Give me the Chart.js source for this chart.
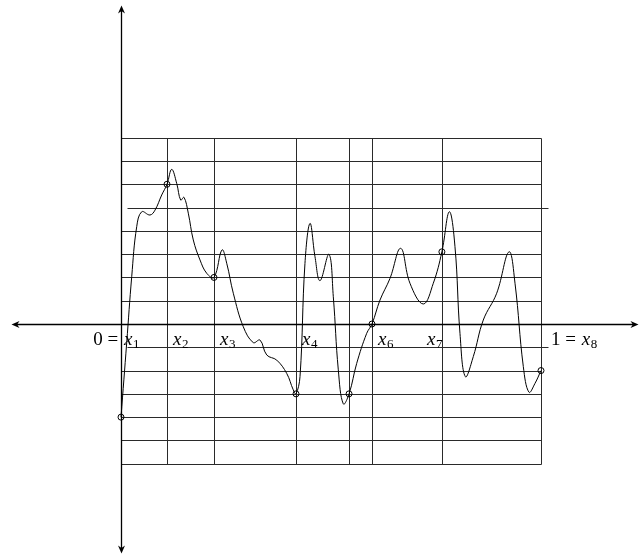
<!DOCTYPE html>
<html>
<head>
<meta charset="utf-8">
<script src="https://cdn.jsdelivr.net/npm/chart.js@4/dist/chart.umd.min.js"></script>
<style>
  body { margin: 0; background: #fff; }
  #wrap { width: 639px; height: 559px; }
</style>
</head>
<body>
<div id="wrap"><canvas id="myChart" width="639" height="559"></canvas></div>
<script>
// nodes x1..x8 on [0,1] and the value of the curve there
const nodeX = [0, 0.1095, 0.2214, 0.4167, 0.543, 0.5976, 0.764, 1];
const nodeY = [-4, 6, 2, -3, -3, 0, 3.1, -2];
const nodeNames = ['1', '2', '3', '4', '5', '6', '7', '8'];

// grid levels
const gridLevels = [-6, -5, -4, -3, -2, -1, 0, 1, 2, 3, 4, 5, 6, 7, 8];
const longLevels = [-1, 5];

// curve
const curveX = [0, 0.0136, 0.0255, 0.0374, 0.0493, 0.069, 0.081, 0.0969, 0.1095, 0.1207,
  0.1326, 0.1421, 0.15, 0.1602, 0.1721, 0.1881, 0.204, 0.2214, 0.2405, 0.2517,
  0.2674, 0.2912, 0.315, 0.331, 0.347, 0.3707, 0.3945, 0.4102, 0.4167, 0.4262,
  0.438, 0.45, 0.4619, 0.4738, 0.4952, 0.5055, 0.5174, 0.5293, 0.543, 0.5612,
  0.585, 0.5976, 0.6167, 0.6405, 0.666, 0.688, 0.7198, 0.7436, 0.764, 0.7817,
  0.7952, 0.8071, 0.8198, 0.8388, 0.8626, 0.8945, 0.9238, 0.9381, 0.9579, 0.9714,
  0.9857, 1];
const curveY = [-4, -0.8, 2.03, 4.18, 4.82, 4.68, 4.89, 5.54, 6, 6.64,
  6.04, 5.32, 5.44, 4.76, 3.61, 2.75, 2.18, 2, 3.18, 2.61,
  1.32, -0.12, -0.8, -0.69, -1.33, -1.55, -2.12, -2.83, -3, -2.26,
  2.6, 4.32, 2.89, 1.86, 2.99, 1.17, -1.97, -3.43, -3, -1.69,
  -0.4, 0, 1.03, 1.96, 3.25, 1.75, 0.86, 1.75, 3.1, 4.82,
  3.32, -0.4, -2.26, -1.4, 0.17, 1.32, 3.1, 1.75, -1.83, -2.93,
  -2.55, -2];

const serif = "'Liberation Serif', 'DejaVu Serif', serif";

function arrow(ctx, x, y, dx, dy) {
    const len = 8, half = 3.5;
    const px = -dy, py = dx;
    ctx.beginPath();
    ctx.moveTo(x, y);
    ctx.lineTo(x - dx * len + px * half, y - dy * len + py * half);
    ctx.lineTo(x - dx * len * 0.7, y - dy * len * 0.7);
    ctx.lineTo(x - dx * len - px * half, y - dy * len - py * half);
    ctx.closePath();
    ctx.fill();
}

const gridPlugin = {
    id: 'grid',
    beforeDatasetsDraw(chart) {
        const ctx = chart.ctx;
        const xs = chart.scales.x, ys = chart.scales.y;
        const X = v => Math.round(xs.getPixelForValue(v)) + 0.5;
        const Y = v => Math.round(ys.getPixelForValue(v)) + 0.5;
        ctx.save();
        ctx.strokeStyle = '#2a2a2a';
        ctx.lineWidth = 1;
        ctx.beginPath();
        gridLevels.forEach(l => {
            if (longLevels.includes(l)) {
                ctx.moveTo(X(0.0143), Y(l));
                ctx.lineTo(X(1.0167), Y(l));
            } else {
                ctx.moveTo(X(0), Y(l));
                ctx.lineTo(X(1), Y(l));
            }
        });
        nodeX.forEach(v => {
            ctx.moveTo(X(v), Y(-6));
            ctx.lineTo(X(v), Y(8));
        });
        ctx.stroke();

        // axes
        ctx.strokeStyle = '#000';
        ctx.fillStyle = '#000';
        ctx.lineWidth = 1.3;
        const xl = X(-0.262), xr = X(1.231), yt = Y(13.7), yb = Y(-9.83);
        ctx.beginPath();
        ctx.moveTo(xl + 4, Y(0)); ctx.lineTo(xr - 4, Y(0));
        ctx.moveTo(X(0), yt + 4); ctx.lineTo(X(0), yb - 4);
        ctx.stroke();
        arrow(ctx, xr, Y(0), 1, 0);
        arrow(ctx, xl, Y(0), -1, 0);
        arrow(ctx, X(0), yt, 0, -1);
        arrow(ctx, X(0), yb, 0, 1);
        ctx.restore();
    },
    afterDatasetsDraw(chart) {
        const ctx = chart.ctx;
        const xs = chart.scales.x, ys = chart.scales.y;
        ctx.save();
        ctx.fillStyle = '#000';
        ctx.textBaseline = 'alphabetic';
        const base = ys.getPixelForValue(0) + 21;
        function label(px, name, prefix, alignRight) {
            ctx.font = '19px ' + serif;
            const pw = prefix ? ctx.measureText(prefix).width : 0;
            ctx.font = 'italic 19px ' + serif;
            const xw = ctx.measureText('x').width;
            ctx.font = '13px ' + serif;
            const sw = ctx.measureText(name).width;
            let x0 = alignRight ? px - xw - sw - 1 : px;
            if (prefix) {
                ctx.font = '19px ' + serif;
                ctx.textAlign = 'right';
                ctx.fillText(prefix, x0 - 1, base);
                ctx.textAlign = 'left';
            }
            ctx.font = 'italic 19px ' + serif;
            ctx.fillText('x', x0, base);
            ctx.font = '13px ' + serif;
            ctx.fillText(name, x0 + xw + 0.5, base + 3);
        }
        nodeX.forEach((v, i) => {
            const px = xs.getPixelForValue(v);
            if (i === 0) label(px + 3, nodeNames[i], '0 = ', false);
            else if (i === 4) return;
            else if (i === 6) label(px + 1, nodeNames[i], '', true);
            else if (i === 7) {
                ctx.font = '19px ' + serif;
                const w = ctx.measureText('1 = ').width;
                label(px + 11 + w, nodeNames[i], '1 = ', false);
            }
            else label(px + 6, nodeNames[i], '', false);
        });
        ctx.restore();
    }
};

const ctx = document.getElementById('myChart');
new Chart(ctx, {
    type: 'line',
    data: {
        datasets: [{
            data: curveX.map((x, i) => ({x: x, y: curveY[i]})),
            borderColor: '#000',
            borderWidth: 1,
            pointRadius: 0,
            tension: 0.4,
            fill: false
        }, {
            data: nodeX.map((x, i) => ({x: x, y: nodeY[i]})),
            showLine: false,
            pointRadius: 3,
            pointBorderWidth: 1,
            pointBorderColor: '#000',
            pointBackgroundColor: 'rgba(0,0,0,0)'
        }]
    },
    options: {
        responsive: false,
        animation: false,
        layout: { padding: 0, autoPadding: false },
        plugins: { legend: { display: false }, tooltip: { enabled: false } },
        scales: {
            x: { type: 'linear', display: false, min: -121 / 420, max: 518 / 420 },
            y: { type: 'linear', display: false, min: -235 / 23.286, max: 324 / 23.286 }
        }
    },
    plugins: [gridPlugin]
});
</script>
</body>
</html>
